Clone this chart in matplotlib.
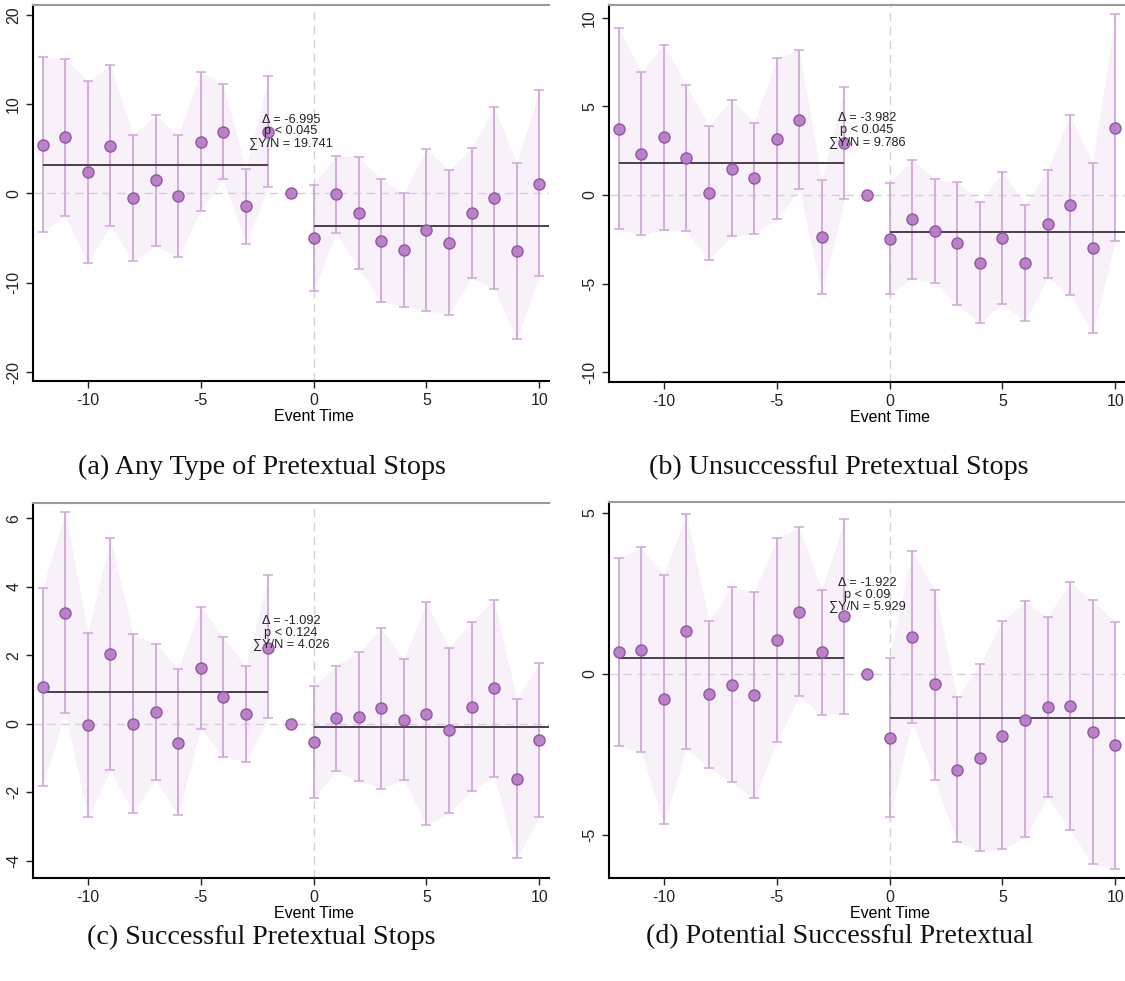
import numpy as np
import matplotlib.pyplot as plt

nan = np.nan

event_time = [-12, -11, -10, -9, -8, -7, -6, -5, -4, -3, -2, -1,
              0, 1, 2, 3, 4, 5, 6, 7, 8, 9, 10]

# (a) Any Type of Pretextual Stops
a_coef = [5.47, 6.29, 2.36, 5.36, -0.56, 1.46, -0.34, 5.81, 6.93, -1.46, 6.93, 0.0,
          -5.02, -0.11, -2.17, -5.28, -6.33, -4.12, -5.51, -2.17, -0.56, -6.44, 1.09]
a_upper = [15.24, 15.09, 12.55, 14.42, 6.55, 8.76, 6.55, 13.60, 12.25, 2.70, 13.15, nan,
           0.90, 4.23, 4.08, 1.61, 0.00, 4.98, 2.58, 5.06, 9.63, 3.41, 11.54]
a_lower = [-4.31, -2.55, -7.75, -3.60, -7.60, -5.88, -7.15, -1.91, 1.61, -5.62, 0.71, nan,
           -10.94, -4.42, -8.46, -12.17, -12.66, -13.18, -13.56, -9.44, -10.75, -16.29, -9.29]
a_means = [3.18, -3.60]
a_stats = ['Δ = -6.995', 'p < 0.045', '∑Y/N = 19.741']

# (b) Unsuccessful Pretextual Stops
b_coef = [3.75, 2.32, 3.25, 2.08, 0.13, 1.49, 0.94, 3.17, 4.25, -2.38, 2.96, 0.0,
          -2.47, -1.38, -2.04, -2.72, -3.83, -2.43, -3.85, -1.66, -0.58, -3.00, 3.81]
b_upper = [9.43, 6.92, 8.49, 6.21, 3.91, 5.36, 4.08, 7.74, 8.19, 0.83, 6.08, nan,
           0.68, 2.00, 0.89, 0.75, -0.40, 1.32, -0.55, 1.40, 4.51, 1.81, 10.23]
b_lower = [-1.94, -2.26, -2.00, -2.04, -3.66, -2.34, -2.19, -1.38, 0.34, -5.57, -0.25, nan,
           -5.57, -4.74, -4.96, -6.21, -7.23, -6.15, -7.13, -4.68, -5.64, -7.77, -2.60]
b_means = [1.83, -2.08]
b_stats = ['Δ = -3.982', 'p < 0.045', '∑Y/N = 9.786']

# (c) Successful Pretextual Stops
c_coef = [1.07, 3.24, -0.04, 2.04, 0.00, 0.34, -0.55, 1.64, 0.78, 0.29, 2.22, 0.0,
          -0.54, 0.16, 0.21, 0.46, 0.11, 0.29, -0.19, 0.50, 1.03, -1.62, -0.47]
c_upper = [3.97, 6.19, 2.66, 5.43, 2.62, 2.34, 1.60, 3.42, 2.53, 1.68, 4.33, nan,
           1.09, 1.69, 2.09, 2.78, 1.88, 3.54, 2.21, 2.96, 3.62, 0.72, 1.77]
c_lower = [-1.82, 0.30, -2.73, -1.35, -2.59, -1.64, -2.67, -0.14, -0.96, -1.11, 0.16, nan,
           -2.16, -1.38, -1.66, -1.89, -1.65, -2.96, -2.60, -1.95, -1.55, -3.93, -2.72]
c_means = [0.92, -0.10]
c_stats = ['Δ = -1.092', 'p < 0.124', '∑Y/N = 4.026']

# (d) Potential Successful Pretextual
d_coef = [0.67, 0.75, -0.79, 1.33, -0.63, -0.34, -0.67, 1.04, 1.92, 0.69, 1.79, 0.0,
          -1.98, 1.16, -0.32, -2.98, -2.60, -1.92, -1.42, -1.02, -1.00, -1.81, -2.22]
d_upper = [3.59, 3.93, 3.07, 4.97, 1.65, 2.70, 2.54, 4.21, 4.55, 2.62, 4.80, nan,
           0.49, 3.82, 2.62, -0.72, 0.30, 1.63, 2.25, 1.77, 2.85, 2.29, 1.61]
d_lower = [-2.24, -2.44, -4.66, -2.32, -2.91, -3.37, -3.87, -2.13, -0.70, -1.27, -1.23, nan,
           -4.45, -1.51, -3.29, -5.22, -5.49, -5.45, -5.08, -3.82, -4.86, -5.91, -6.05]
d_means = [0.49, -1.36]
d_stats = ['Δ = -1.922', 'p < 0.09', '∑Y/N = 5.929']

captions = ['(a) Any Type of Pretextual Stops', '(b) Unsuccessful Pretextual Stops',
            '(c) Successful Pretextual Stops', '(d) Potential Successful Pretextual']

panels = [
    dict(coef=a_coef, up=a_upper, lo=a_lower, means=a_means, stats=a_stats,
         ylim=(-21.0, 21.1), yticks=[-20, -10, 0, 10, 20], text_y=6.97),
    dict(coef=b_coef, up=b_upper, lo=b_lower, means=b_means, stats=b_stats,
         ylim=(-10.56, 10.73), yticks=[-10, -5, 0, 5, 10], text_y=3.67),
    dict(coef=c_coef, up=c_upper, lo=c_lower, means=c_means, stats=c_stats,
         ylim=(-4.5, 6.44), yticks=[-4, -2, 0, 2, 4, 6], text_y=2.66),
    dict(coef=d_coef, up=d_upper, lo=d_lower, means=d_means, stats=d_stats,
         ylim=(-6.34, 5.34), yticks=[-5, 0, 5], text_y=2.46),
]

# axes boxes in pixels: left, top, right, bottom
boxes = [(33, 5, 549, 381), (609, 5, 1125, 382), (33, 503, 549, 878), (609, 502, 1125, 878)]
cap_pos = [(262, 467), (839, 467), (261, 937), (840, 937)]

W, H = 1125, 981
plt.rcParams['font.family'] = ['Liberation Sans', 'DejaVu Sans']
plt.rcParams['axes.unicode_minus'] = False
fig = plt.figure(figsize=(W / 100, H / 100), dpi=100)

t = np.array(event_time)
xlim = (-12.43, 10.43)

dot_face = '#b87cc8'
dot_edge = '#8e529e'
bar_col = '#d0a6d8'
band_col = '#f8f1fa'

for p, (l, tp, r, b), cp, cap in zip(panels, boxes, cap_pos, captions):
    ax = fig.add_axes([l / W, 1 - b / H, (r - l) / W, (b - tp) / H])
    coef = np.array(p['coef'])
    up = np.array(p['up'])
    lo = np.array(p['lo'])
    pre = t <= -2
    post = t >= 0

    ax.fill_between(t[pre], lo[pre], up[pre], color=band_col, lw=0, zorder=1)
    ax.fill_between(t[post], lo[post], up[post], color=band_col, lw=0, zorder=1)
    ax.axhline(0, color='#dccbdc', ls=(0, (6, 4)), lw=1, zorder=2)
    ax.axvline(0, color='#d2d2d2', ls=(0, (6, 4)), lw=1, zorder=2)

    ok = ~np.isnan(up)
    ax.errorbar(t[ok], coef[ok], yerr=[coef[ok] - lo[ok], up[ok] - coef[ok]], fmt='none',
                ecolor=bar_col, elinewidth=1.3, capsize=3.5, capthick=1.1, zorder=3)
    ax.hlines(p['means'][0], t[pre].min(), t[pre].max(), color='#4a3f4a', lw=1.4, zorder=4)
    ax.hlines(p['means'][1], 0, xlim[1], color='#4a3f4a', lw=1.4, zorder=4)
    ax.plot(t, coef, 'o', ms=8, mfc=dot_face, mec=dot_edge, mew=1, alpha=0.95, zorder=5)

    ax.text(-1, p['text_y'], '\n'.join(p['stats']), ha='center', va='center',
            fontsize=9.2, linespacing=0.95, color='#222222', zorder=6)

    ax.set_xlim(xlim)
    ax.set_ylim(p['ylim'])
    ax.set_xticks([-10, -5, 0, 5, 10])
    ax.set_yticks(p['yticks'])
    ax.tick_params(axis='both', labelsize=11.5, colors='#222222', length=5, width=1)
    for lab in ax.get_yticklabels():
        lab.set_rotation(90)
        lab.set_va('center')
    ax.spines['right'].set_visible(False)
    ax.spines['top'].set_color('#9a9a9a')
    ax.spines['top'].set_linewidth(1.5)
    ax.spines['left'].set_linewidth(1.5)
    ax.spines['bottom'].set_linewidth(1.5)
    ax.set_xlabel('Event Time', fontsize=11.5, labelpad=1,
                  x=(0 - xlim[0]) / (xlim[1] - xlim[0]))

    fig.text(cp[0] / W, 1 - cp[1] / H, cap, ha='center', va='center',
             fontsize=20.2, family='Liberation Serif', color='#111111')

fig.savefig('out.png', dpi=100, facecolor='white')
